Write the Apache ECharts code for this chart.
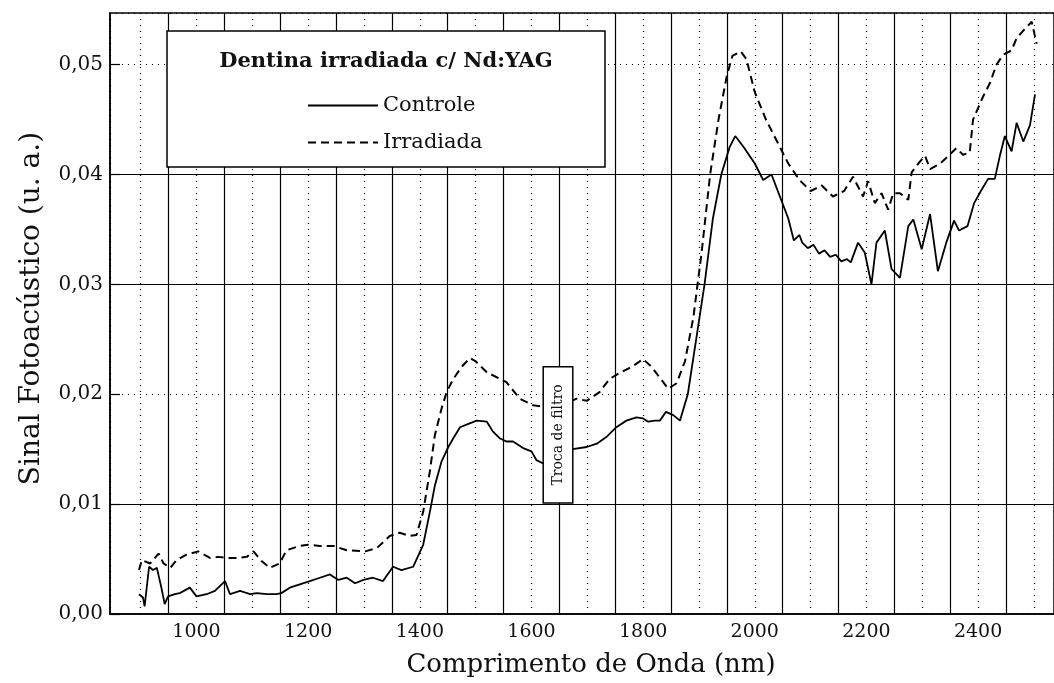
<!DOCTYPE html>
<html>
<head>
<meta charset="utf-8">
<script src="https://cdn.jsdelivr.net/npm/echarts@6/dist/echarts.min.js"></script>
<style>
html, body { margin: 0; padding: 0; background: #fff; }
#chart { width: 1054px; height: 683px; }
</style>
</head>
<body>
<div id="chart"></div>
<script>
// comprimento de onda (nm) e sinal (u. a.)
const controleX = [897, 904, 907, 915, 922, 929, 937, 943, 949, 961, 970, 988, 1000, 1018, 1033, 1051, 1060, 1078, 1096, 1108, 1126, 1143, 1152, 1167, 1185, 1203, 1221, 1239, 1254, 1269, 1284, 1299, 1316, 1334, 1352, 1367, 1388, 1406, 1418, 1427, 1439, 1451, 1460, 1472, 1487, 1502, 1520, 1531, 1543, 1555, 1567, 1585, 1600, 1609, 1621, 1640, 1660, 1674, 1699, 1717, 1734, 1752, 1770, 1788, 1800, 1809, 1821, 1830, 1841, 1854, 1866, 1880, 1895, 1910, 1925, 1940, 1955, 1965, 1980, 2000, 2015, 2030, 2045, 2060, 2070, 2080, 2085, 2095, 2105, 2115, 2125, 2135, 2145, 2155, 2165, 2172, 2185, 2197, 2209, 2218, 2233, 2245, 2260, 2275, 2284, 2299, 2314, 2328, 2343, 2357, 2366, 2381, 2393, 2405, 2418, 2430, 2439, 2448, 2460, 2469, 2481, 2493, 2502];
const controleY = [0.0018, 0.0015, 0.0007, 0.0043, 0.0040, 0.0042, 0.0024, 0.0009, 0.0016, 0.0018, 0.0019, 0.0024, 0.0016, 0.0018, 0.0021, 0.0030, 0.0018, 0.0021, 0.0018, 0.0019, 0.0018, 0.0018, 0.0019, 0.0024, 0.0027, 0.0030, 0.0033, 0.0036, 0.0031, 0.0033, 0.0028, 0.0031, 0.0033, 0.0030, 0.0043, 0.0040, 0.0043, 0.0063, 0.0093, 0.0117, 0.0139, 0.0152, 0.0160, 0.0170, 0.0173, 0.0176, 0.0175, 0.0166, 0.0160, 0.0157, 0.0157, 0.0151, 0.0148, 0.0140, 0.0137, 0.0136, 0.0142, 0.0150, 0.0152, 0.0155, 0.0161, 0.0170, 0.0176, 0.0179, 0.0178, 0.0175, 0.0176, 0.0176, 0.0184, 0.0181, 0.0176, 0.0200, 0.0250, 0.0300, 0.0360, 0.0400, 0.0425, 0.0435, 0.0425, 0.0410, 0.0395, 0.0400, 0.0380, 0.0360, 0.0340, 0.0345, 0.0338, 0.0333, 0.0336, 0.0328, 0.0331, 0.0325, 0.0327, 0.0321, 0.0323, 0.0320, 0.0338, 0.0329, 0.0300, 0.0338, 0.0349, 0.0314, 0.0306, 0.0353, 0.0359, 0.0332, 0.0364, 0.0312, 0.0338, 0.0358, 0.0349, 0.0353, 0.0374, 0.0385, 0.0396, 0.0396, 0.0417, 0.0435, 0.0421, 0.0447, 0.0430, 0.0445, 0.0473];

const irradiadaX = [897, 902, 917, 932, 941, 953, 964, 982, 1003, 1024, 1039, 1054, 1072, 1090, 1102, 1117, 1131, 1149, 1161, 1185, 1200, 1221, 1245, 1269, 1302, 1323, 1346, 1364, 1382, 1394, 1406, 1418, 1427, 1439, 1448, 1460, 1475, 1490, 1500, 1520, 1540, 1555, 1579, 1603, 1630, 1655, 1681, 1699, 1722, 1740, 1760, 1780, 1800, 1815, 1830, 1845, 1860, 1875, 1890, 1905, 1920, 1935, 1950, 1960, 1975, 1985, 2000, 2020, 2040, 2060, 2080, 2100, 2120, 2140, 2160, 2176, 2194, 2203, 2215, 2227, 2239, 2248, 2260, 2275, 2281, 2293, 2305, 2314, 2332, 2349, 2361, 2373, 2385, 2391, 2409, 2421, 2433, 2445, 2460, 2469, 2481, 2496, 2505];
const irradiadaY = [0.0040, 0.0049, 0.0046, 0.0055, 0.0046, 0.0042, 0.0049, 0.0054, 0.0057, 0.0051, 0.0052, 0.0051, 0.0051, 0.0052, 0.0057, 0.0048, 0.0042, 0.0046, 0.0058, 0.0062, 0.0063, 0.0062, 0.0062, 0.0058, 0.0057, 0.0060, 0.0071, 0.0074, 0.0071, 0.0072, 0.0093, 0.0130, 0.0163, 0.0187, 0.0202, 0.0214, 0.0225, 0.0233, 0.0230, 0.0220, 0.0215, 0.0211, 0.0196, 0.0190, 0.0188, 0.0190, 0.0196, 0.0194, 0.0202, 0.0214, 0.0220, 0.0225, 0.0232, 0.0225, 0.0215, 0.0205, 0.0210, 0.0230, 0.0270, 0.0330, 0.0400, 0.0450, 0.0490, 0.0508, 0.0512, 0.0505, 0.0475, 0.0450, 0.0430, 0.0410, 0.0395, 0.0385, 0.0390, 0.0380, 0.0385, 0.0398, 0.0380, 0.0394, 0.0374, 0.0383, 0.0368, 0.0383, 0.0383, 0.0377, 0.0402, 0.0410, 0.0417, 0.0405, 0.0410, 0.0418, 0.0424, 0.0418, 0.0420, 0.0450, 0.0471, 0.0483, 0.0500, 0.0509, 0.0513, 0.0524, 0.0531, 0.0539, 0.0519];

// linhas cheias da grade (as pontilhadas vêm dos eixos)
const gradeX = [950, 1050, 1150, 1250, 1350, 1450, 1550, 1650, 1750, 1850, 1950, 2050, 2150, 2250, 2350, 2450];
const gradeY = [0.005, 0.015, 0.025, 0.035, 0.045];

const fonte = '"DejaVu Serif", "Liberation Serif", serif';
const pontilhado = { color: '#000', width: 1.2, type: [1, 5] };

const chart = echarts.init(document.getElementById('chart'));

const option = {
  backgroundColor: '#fff',
  animation: false,
  grid: {
    left: 110, right: 0, top: 13, bottom: 67,
    show: true, borderColor: '#000', borderWidth: 1.5
  },
  xAxis: {
    type: 'value',
    min: 845, max: 2536,
    minInterval: 100, maxInterval: 100,
    name: 'Comprimento de Onda (nm)',
    nameLocation: 'middle',
    nameGap: 38,
    nameTextStyle: { fontFamily: fonte, fontSize: 26, color: '#111', padding: [0, 0, 0, 18] },
    axisLine: { lineStyle: { color: '#000', width: 1.5 } },
    axisTick: { show: false },
    axisLabel: {
      fontFamily: fonte, fontSize: 19, color: '#111', margin: 9,
      showMinLabel: false, showMaxLabel: false,
      formatter: v => (v % 200 === 0 ? String(v) : '')
    },
    splitLine: { show: true, lineStyle: pontilhado }
  },
  yAxis: {
    type: 'value',
    min: 0, max: 0.0547, interval: 0.01,
    name: 'Sinal Fotoacústico (u. a.)',
    nameLocation: 'middle',
    nameGap: 64,
    nameTextStyle: { fontFamily: fonte, fontSize: 28, color: '#111', padding: [0, 0, 0, 10] },
    axisLine: { lineStyle: { color: '#000', width: 1.5 } },
    axisTick: { show: true, inside: true, length: 10, lineStyle: { color: '#000', width: 1.2 } },
    axisLabel: {
      fontFamily: fonte, fontSize: 20, color: '#111', margin: 7,
      showMaxLabel: false,
      formatter: v => v.toFixed(2).replace('.', ',')
    },
    splitLine: { show: true, lineStyle: pontilhado }
  },
  legend: {
    data: ['Controle', 'Irradiada'],
    orient: 'vertical',
    left: 302, top: 90,
    itemWidth: 70, itemHeight: 20, itemGap: 16,
    itemStyle: { opacity: 0 },
    z: 110,
    textStyle: { fontFamily: fonte, fontSize: 21, color: '#111' }
  },
  series: [
    {
      name: 'grade', type: 'line', data: [], silent: true,
      markLine: {
        silent: true, symbol: 'none', label: { show: false },
        lineStyle: { color: '#000', width: 1.2, type: 'solid' },
        data: gradeX.map(v => ({ xAxis: v })).concat(gradeY.map(v => ({ yAxis: v })))
      }
    },
    {
      name: 'Controle', type: 'line', showSymbol: false, symbol: 'none',
      lineStyle: { color: '#000', width: 1.8 },
      itemStyle: { color: '#000' },
      data: controleX.map((x, i) => [x, controleY[i]])
    },
    {
      name: 'Irradiada', type: 'line', showSymbol: false, symbol: 'none',
      lineStyle: { color: '#000', width: 2, type: [8, 5] },
      itemStyle: { color: '#000' },
      data: irradiadaX.map((x, i) => [x, irradiadaY[i]])
    }
  ]
};

chart.setOption(option);

// caixa "Troca de filtro" posicionada em coordenadas de dados
const p0 = chart.convertToPixel({ gridIndex: 0 }, [1621, 0.0225]);
const p1 = chart.convertToPixel({ gridIndex: 0 }, [1674, 0.0101]);
chart.setOption({
  graphic: [
    {
      id: 'caixaLegenda', type: 'rect', z: 100,
      shape: { x: 167, y: 31, width: 438, height: 136 },
      style: { fill: '#fff', stroke: '#000', lineWidth: 1.5 }
    },
    {
      id: 'tituloLegenda', type: 'text', z: 110,
      x: 386, y: 62,
      style: {
        text: 'Dentina irradiada c/ Nd:YAG',
        font: 'bold 21px ' + fonte,
        fill: '#111', align: 'center', verticalAlign: 'middle'
      }
    },
    {
      id: 'caixaFiltro', type: 'rect', z: 100,
      shape: { x: p0[0], y: p0[1], width: p1[0] - p0[0], height: p1[1] - p0[1] },
      style: { fill: '#fff', stroke: '#000', lineWidth: 1.5 }
    },
    {
      id: 'textoFiltro', type: 'text', z: 110,
      x: (p0[0] + p1[0]) / 2, y: (p0[1] + p1[1]) / 2,
      rotation: Math.PI / 2,
      style: {
        text: 'Troca de filtro',
        font: '14px ' + fonte,
        fill: '#111', align: 'center', verticalAlign: 'middle'
      }
    }
  ]
});
</script>
</body>
</html>
